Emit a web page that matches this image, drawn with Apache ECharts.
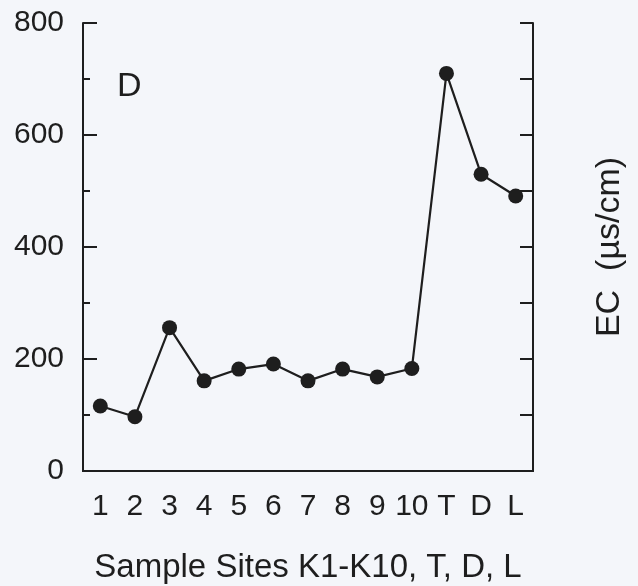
<!DOCTYPE html>
<html>
<head>
<meta charset="utf-8">
<script src="https://cdn.jsdelivr.net/npm/echarts@6/dist/echarts.min.js"></script>
<style>
html,body{margin:0;padding:0;background:#f4f6fa;}
#chart{width:638px;height:586px;}
</style>
</head>
<body>
<div id="chart"></div>
<script>
const categories = ['1','2','3','4','5','6','7','8','9','10','T','D','L'];
const ecValues = [116, 97, 256, 161, 182, 191, 161, 182, 168, 183, 710, 530, 491];
const yTicks = [0, 200, 400, 600, 800];
const panelLabel = 'D';
const xTitle = 'Sample Sites K1-K10, T, D, L';
const yTitle = 'EC  (\u00b5s/cm)';

const FONT = '"Liberation Sans", Arial, sans-serif';
const INK = '#1e1e1e';
const chart = echarts.init(document.getElementById('chart'), null, {renderer: 'canvas'});
chart.setOption({
  backgroundColor: '#f4f6fa',
  animation: false,
  title: {
    text: panelLabel, left: 112, top: 65,
    textStyle: {fontFamily: FONT, fontSize: 34, fontWeight: 'normal', color: INK}
  },
  grid: {left: 83, right: 105, top: 23, bottom: 115, containLabel: false, outerBoundsMode: 'none'},
  xAxis: [{
    type: 'category', data: categories, boundaryGap: true, position: 'bottom',
    axisLine: {lineStyle: {color: INK, width: 2}},
    axisTick: {inside: true, alignWithLabel: true, length: 11, lineStyle: {color: INK, width: 2}},
    axisLabel: {fontFamily: FONT, fontSize: 30, color: INK, margin: 21, interval: 0},
    name: xTitle, nameLocation: 'middle', nameGap: 80,
    nameTextStyle: {fontFamily: FONT, fontSize: 33, color: INK}
  }, {
    type: 'category', data: categories, boundaryGap: true, position: 'top',
    axisLine: {lineStyle: {color: INK, width: 2}},
    axisTick: {inside: true, alignWithLabel: true, length: 13, lineStyle: {color: INK, width: 2}},
    axisLabel: {show: false}
  }],
  yAxis: [{
    type: 'value', min: yTicks[0], max: yTicks[yTicks.length - 1], interval: 200, position: 'left',
    axisLine: {show: true, lineStyle: {color: INK, width: 2}},
    axisTick: {show: true, inside: true, length: 14, lineStyle: {color: INK, width: 2}},
    minorTick: {show: true, splitNumber: 2, length: 7, lineStyle: {color: INK, width: 2}},
    axisLabel: {fontFamily: FONT, fontSize: 30, color: INK, margin: 19},
    splitLine: {show: false}
  }, {
    type: 'value', min: yTicks[0], max: yTicks[yTicks.length - 1], interval: 100, position: 'right',
    axisLine: {show: true, lineStyle: {color: INK, width: 2}},
    axisTick: {show: true, inside: true, length: 13, lineStyle: {color: INK, width: 2}},
    axisLabel: {show: false},
    splitLine: {show: false},
    name: yTitle, nameLocation: 'middle', nameRotate: 90, nameGap: 60,
    nameTextStyle: {fontFamily: FONT, fontSize: 34, color: INK}
  }],
  series: [{
    type: 'line', data: ecValues, xAxisIndex: 0, yAxisIndex: 0,
    symbol: 'circle', symbolSize: 15,
    lineStyle: {color: INK, width: 2.2},
    itemStyle: {color: INK}
  }]
});
</script>
</body>
</html>
